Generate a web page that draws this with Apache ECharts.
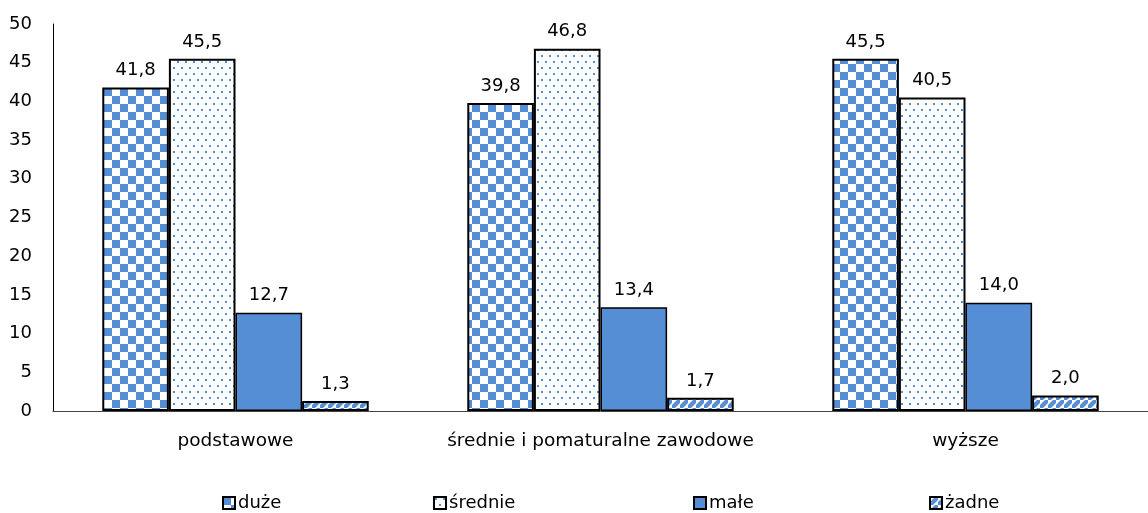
<!DOCTYPE html>
<html>
<head>
<meta charset="utf-8">
<script src="https://cdn.jsdelivr.net/npm/echarts@6/dist/echarts.min.js"></script>
<style>
  html, body { margin: 0; padding: 0; background: #fff; }
  #chart { width: 1148px; height: 513px; }
</style>
</head>
<body>
<div id="chart"></div>
<script>
// Education level groups and shares (%) by size of place
const categories = ['podstawowe', 'średnie i pomaturalne zawodowe', 'wyższe'];
const seriesNames = ['duże', 'średnie', 'małe', 'żadne'];
const duze = [41.8, 39.8, 45.5];
const srednie = [45.5, 46.8, 40.5];
const male = [12.7, 13.4, 14.0];
const zadne = [1.3, 1.7, 2.0];
const yTicks = [0, 5, 10, 15, 20, 25, 30, 35, 40, 45, 50];

const BLUE = '#558ed5';
const FONT = 'DejaVu Sans';

function tile(w, h, draw) {
  const c = document.createElement('canvas');
  c.width = w; c.height = h;
  const ctx = c.getContext('2d');
  ctx.fillStyle = '#fff';
  ctx.fillRect(0, 0, w, h);
  draw(ctx);
  return c;
}

// checkerboard fill
const checker = tile(16, 16, ctx => {
  ctx.fillStyle = BLUE;
  ctx.fillRect(0, 0, 8, 8);
  ctx.fillRect(8, 8, 8, 8);
});
// sparse dotted fill
const dots = tile(8, 12, ctx => {
  ctx.fillStyle = BLUE;
  ctx.fillRect(1, 1, 2, 2);
  ctx.fillRect(5, 7, 2, 2);
});
// diagonal stripes
const stripes = tile(8, 8, ctx => {
  ctx.fillStyle = BLUE;
  ctx.beginPath();
  ctx.moveTo(0, 8); ctx.lineTo(3, 8); ctx.lineTo(8, 3); ctx.lineTo(8, 0); ctx.lineTo(5, 0); ctx.lineTo(0, 5);
  ctx.closePath();
  ctx.fill();
});

const fills = [
  { image: checker, repeat: 'repeat' },
  { image: dots, repeat: 'repeat' },
  BLUE,
  { image: stripes, repeat: 'repeat' }
];
const values = [duze, srednie, male, zadne];

const fmt = v => v.toFixed(1).replace('.', ',');

const series = seriesNames.map((name, i) => ({
  name,
  type: 'bar',
  data: values[i],
  barGap: '0%',
  barCategoryGap: '27%',
  itemStyle: { color: fills[i], borderColor: '#000', borderWidth: i === 2 ? 1.5 : 2 },
  label: {
    show: true,
    position: 'top',
    distance: 8,
    formatter: p => fmt(p.value),
    fontFamily: FONT,
    fontSize: 18,
    color: '#000'
  },
  emphasis: { disabled: true }
}));

const legendLefts = [217, 428, 688, 924];
const legends = seriesNames.map((name, i) => ({
  data: [name],
  left: legendLefts[i],
  top: 489,
  itemWidth: 12,
  itemHeight: 12,
  itemGap: 0,
  icon: 'rect',
  textStyle: { fontFamily: FONT, fontSize: 18, color: '#000', padding: [0, 0, 0, -2] },
  selectedMode: false
}));

const chart = echarts.init(document.getElementById('chart'), null, { renderer: 'canvas' });
chart.setOption({
  animation: false,
  backgroundColor: '#fff',
  grid: { left: 53, top: 24, width: 1106, height: 387, containLabel: false },
  legend: legends,
  xAxis: {
    type: 'category',
    data: categories,
    axisLine: { lineStyle: { color: '#444', width: 1 } },
    axisTick: { show: false },
    axisLabel: { interval: 0, fontFamily: FONT, fontSize: 18.5, color: '#000', margin: 21 }
  },
  yAxis: {
    type: 'value',
    min: yTicks[0],
    max: yTicks[yTicks.length - 1],
    interval: 5,
    splitLine: { show: false },
    axisLine: { show: true, lineStyle: { color: '#000', width: 1 } },
    axisTick: { show: false },
    axisLabel: { fontFamily: FONT, fontSize: 18, color: '#000', margin: 21 }
  },
  series
});
</script>
</body>
</html>
